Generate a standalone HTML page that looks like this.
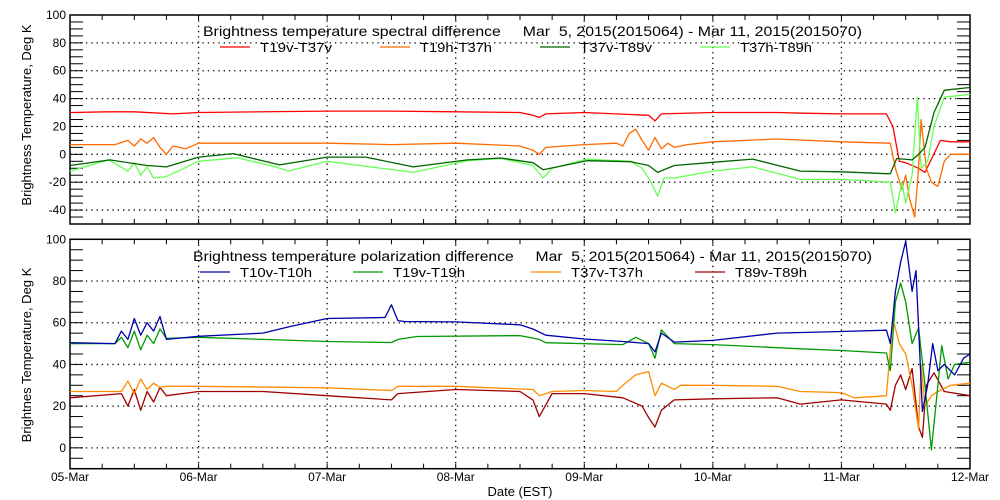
<!DOCTYPE html>
<html><head><meta charset="utf-8"><style>
html,body{margin:0;padding:0;background:#fff;}
svg{display:block;font-family:"Liberation Sans",sans-serif;}
</style></head><body>
<svg id="c" width="1000" height="500" viewBox="0 0 1000 500"></svg>
<script>
// ---- data (time in days since 05-Mar 00:00, values in K) ----
const xTickLabels = ["05-Mar","06-Mar","07-Mar","08-Mar","09-Mar","10-Mar","11-Mar","12-Mar"];
const topYTicks = [-40,-20,0,20,40,60,80,100];
const botYTicks = [0,20,40,60,80,100];
const topNames = ["T19v-T37v","T19h-T37h","T37v-T89v","T37h-T89h"];
const botNames = ["T10v-T10h","T19v-T19h","T37v-T37h","T89v-T89h"];

const redT = [0,0.3,0.5,0.8,1.0,2.0,2.5,3.0,3.5,3.6,3.65,3.7,4.0,4.5,4.55,4.6,5.0,5.5,5.7,6.0,6.35,6.4,6.45,6.5,6.6,6.65,6.77,6.85,7.0];
const redV = [30,30.5,30.5,29,30,31,31,30.5,30,28,26.5,29,30,28,24,29,30,30,29.5,29,29,20,-5,-6,-10,-13,10,9,9];
const oraT = [0,0.35,0.45,0.5,0.55,0.6,0.65,0.7,0.75,0.8,0.9,1.0,1.5,2.0,2.5,3.0,3.5,3.6,3.65,3.7,4.0,4.25,4.3,4.35,4.4,4.45,4.5,4.55,4.6,4.65,4.7,4.8,5.0,5.5,6.0,6.38,6.42,6.47,6.5,6.53,6.57,6.6,6.62,6.66,6.7,6.75,6.8,6.85,7.0];
const oraV = [7,7,10,6,11,8,12,5,0,6,4,8,8,8,7,8,6,3,0,5,7,8,6,15,18,10,3,12,4,8,5,7,9,11,9,8,-10,-25,-15,-32,-45,-10,25,-10,-20,-23,-5,0,0];
const dgrT = [0,0.31,0.6,0.75,1.0,1.27,1.63,2.0,2.3,2.67,3.09,3.35,3.6,3.68,4.02,4.36,4.5,4.57,4.7,5.0,5.31,5.68,6.0,6.38,6.43,6.55,6.6,6.65,6.72,6.8,7.0];
const dgrV = [-8,-4,-8,-9,-2,0.5,-7.6,-2,-2,-9,-4,-2.6,-6,-11,-4.6,-5.3,-8,-13,-8,-5.7,-3.4,-12,-12.5,-14,-3,-4,0,5,30,46,48];
const lgrT = [0,0.3,0.45,0.5,0.55,0.6,0.65,0.75,1.0,1.3,1.6,1.7,2.0,2.67,3.09,3.35,3.6,3.68,3.75,4.02,4.36,4.45,4.52,4.57,4.62,4.7,5.0,5.31,5.68,6.0,6.38,6.42,6.47,6.5,6.55,6.59,6.62,6.67,6.72,6.8,7.0];
const lgrV = [-12,-4,-12,-6,-15,-9,-17,-16,-5,-2.5,-9,-12,-5,-13,-4.6,-3,-8,-17,-10,-3.6,-5,-10,-20,-30,-17,-17,-12,-9,-18,-18,-20,-42,-20,-35,-15,41,-10,-5,20,41,43];

const bluT = [0,0.35,0.4,0.45,0.5,0.55,0.6,0.65,0.7,0.75,1.0,1.5,1.7,2.0,2.45,2.5,2.55,2.6,3.0,3.5,3.6,3.7,4.0,4.3,4.5,4.55,4.6,4.7,5.0,5.5,6.0,6.35,6.38,6.42,6.46,6.5,6.55,6.58,6.63,6.67,6.71,6.75,6.8,6.88,6.95,7.0];
const bluV = [50.4,50,56,52,62,54,60,56,63,52,53.5,55,58,62,62.5,68.6,61,60.6,60.4,59,57,54,52.2,51,50,46,55,50.7,51.5,55,55.8,56.4,50,75,89,99,75,85,17.5,30,50,37,40,35,43,45];
const grnT = [0,0.35,0.4,0.45,0.5,0.55,0.6,0.65,0.7,0.75,1.0,1.5,2.0,2.5,2.55,2.7,3.5,3.65,3.7,4.3,4.4,4.5,4.55,4.6,4.7,5.0,5.68,6.0,6.35,6.38,6.42,6.46,6.5,6.55,6.6,6.65,6.7,6.75,6.78,6.83,6.88,7.0];
const grnV = [50,50,53,48,56,47,54,50,57,52.5,53,52,51,50.5,52,53.4,53.8,52,50.4,49.5,53,50,43,56.6,50,49.5,47.5,46.7,45.5,37,70,79,70,50,57.5,30,-1,30,49,33,40,41];
const ornT = [0,0.4,0.45,0.5,0.55,0.6,0.65,0.7,0.75,1.0,2.0,2.5,2.55,3.0,3.6,3.65,3.75,4.0,4.25,4.3,4.4,4.5,4.55,4.6,4.7,4.75,5.0,5.5,5.68,6.0,6.1,6.35,6.4,6.45,6.5,6.55,6.6,6.62,6.65,6.7,6.75,6.85,7.0];
const ornV = [27,27,32,26,33,28,31,29,29.5,29.5,28.8,27.5,29.5,29.5,28,25,27,27.5,27,30,35,36.6,25,31,28,30,30,29.5,27,26.5,24,25,62,50,45,30,9,40,20,25,27,30,31];
const drdT = [0,0.4,0.45,0.5,0.55,0.6,0.65,0.7,0.75,1.0,1.5,2.0,2.5,2.55,3.0,3.5,3.6,3.65,3.75,4.0,4.3,4.45,4.5,4.55,4.6,4.7,5.0,5.5,5.68,6.0,6.35,6.38,6.42,6.46,6.5,6.55,6.6,6.63,6.66,6.72,6.8,7.0];
const drdV = [24,26,20,28,18,27,22,29,25,27,27,25,23,26,28,27,23,15,26,26,24,20,14.5,10,18,23,23.5,24,21,23,21,18,30,35,28,38,10,5,30,36,27,25];

// ---- layout ----
const svg = document.getElementById('c');
const NS = 'http://www.w3.org/2000/svg';
const X0 = 70, X1 = 970;
function xs(t){ return X0 + (X1 - X0) * t / 7; }
const topP = {y0:15, y1:224, vmin:-50, vmax:100};
const botP = {y0:239.3, y1:468.7, vmin:-10, vmax:100};
function ys(p, v){ return p.y1 - (v - p.vmin) / (p.vmax - p.vmin) * (p.y1 - p.y0); }
function el(tag, attrs, parent){
  const e = document.createElementNS(NS, tag);
  for (const k in attrs) e.setAttribute(k, attrs[k]);
  (parent || svg).appendChild(e);
  return e;
}

function panel(p, yTicks, name){
  const g = el('g', {});
  
  
  for (const v of yTicks){
    if (v === p.vmax) continue;
    const gl = el('line', {x1:X0, x2:X1, y1:ys(p,v), y2:ys(p,v), stroke:'#000', 'stroke-width':1.3, 'stroke-dasharray':'1.3,4'}, g);
    
    
  }
  for (let d = 1; d < 7; d++){
    const gl = el('line', {x1:xs(d), x2:xs(d), y1:p.y0, y2:p.y1, stroke:'#000', 'stroke-width':1.3, 'stroke-dasharray':'1.3,4'}, g);
    
    
  }
  for (let v = p.vmin; v <= p.vmax; v += 5){
    const y = ys(p, v);
    el('line', {x1:X0, x2:X0+13, y1:y, y2:y, stroke:'#000', 'stroke-width':1}, g);
    el('line', {x1:X1-13, x2:X1, y1:y, y2:y, stroke:'#000', 'stroke-width':1}, g);
  }
  for (const v of yTicks){
    const t = el('text', {x:66, y:ys(p,v)+4, 'text-anchor':'end', 'font-size':12}, g);
    t.textContent = v;
    
    
  }
  for (let i = 0; i <= 28; i++){
    const x = xs(i / 4);
    el('line', {x1:x, x2:x, y1:p.y1, y2:p.y1-5, stroke:'#000', 'stroke-width':1}, g);
    el('line', {x1:x, x2:x, y1:p.y0, y2:p.y0+5, stroke:'#000', 'stroke-width':1}, g);
  }
  const fr = el('rect', {x:X0, y:p.y0, width:X1-X0, height:p.y1-p.y0, fill:'none', stroke:'#000', 'stroke-width':1.5}, g);
  
  
  return g;
}

function series(p, T, V, color, name){
  let d = '';
  for (let i = 0; i < T.length; i++) d += (i ? 'L' : 'M') + xs(T[i]).toFixed(1) + ',' + ys(p, V[i]).toFixed(1);
  const path = el('path', {d:d, fill:'none', stroke:color, 'stroke-width':1.3, 'stroke-linejoin':'round'});
  
  
}

function text(x, y, s, size, name, extra){
  const t = el('text', Object.assign({x:x, y:y, 'font-size':size}, extra || {}));
  t.textContent = s;
  
  
  return t;
}

function legend(x, y, color, label, name){
  const g = el('g', {});
  
  
  el('line', {x1:x, x2:x+30, y1:y-5, y2:y-5, stroke:color, 'stroke-width':1.3}, g);
  const t = el('text', {x:x+40, y:y, 'font-size':13, textLength:72, lengthAdjust:'spacingAndGlyphs'}, g);
  t.textContent = label;
}

panel(topP, topYTicks, 'top');
panel(botP, botYTicks, 'bottom');

series(topP, redT, redV, '#ff0000', 'series-t19v-t37v');
series(topP, oraT, oraV, '#ff6a00', 'series-t19h-t37h');
series(topP, lgrT, lgrV, '#66ff55', 'series-t37h-t89h');
series(topP, dgrT, dgrV, '#006400', 'series-t37v-t89v');

series(botP, drdT, drdV, '#a00000', 'series-t89v-t89h');
series(botP, ornT, ornV, '#ff8c00', 'series-t37v-t37h');
series(botP, grnT, grnV, '#009900', 'series-t19v-t19h');
series(botP, bluT, bluV, '#0000a8', 'series-t10v-t10h');

for (let d = 0; d < xTickLabels.length; d++){
  text(xs(d), 481, xTickLabels[d], 12, 'x-tick-label', {'text-anchor':'middle'});
}
text(520, 496, 'Date (EST)', 13, 'x-axis-title', {'text-anchor':'middle'});
text(0, 0, 'Brightness Temperature, Deg K', 13, 'top-y-axis-title', {'text-anchor':'middle', transform:'translate(31,115) rotate(-90)'});
text(0, 0, 'Brightnes Temperature, Deg K', 13, 'bottom-y-axis-title', {'text-anchor':'middle', transform:'translate(31,355) rotate(-90)'});

text(203, 36, 'Brightness temperature spectral difference     Mar  5, 2015(2015064) - Mar 11, 2015(2015070)', 14, 'top-title', {textLength:659, lengthAdjust:'spacingAndGlyphs'}).style.whiteSpace = 'pre';
text(193, 261, 'Brightness temperature polarization difference     Mar  5, 2015(2015064) - Mar 11, 2015(2015070)', 14, 'bottom-title', {textLength:679, lengthAdjust:'spacingAndGlyphs'}).style.whiteSpace = 'pre';

const topColors = ['#ff0000', '#ff6a00', '#006400', '#66ff55'];
const topLegX = [220, 380, 540, 700];
for (let i = 0; i < 4; i++) legend(topLegX[i], 52, topColors[i], topNames[i], 'legend-entry-top');
const botColors = ['#0000a8', '#009900', '#ff8c00', '#a00000'];
const botLegX = [200, 353, 531, 695];
for (let i = 0; i < 4; i++) legend(botLegX[i], 277, botColors[i], botNames[i], 'legend-entry-bottom');
</script>
</body></html>
